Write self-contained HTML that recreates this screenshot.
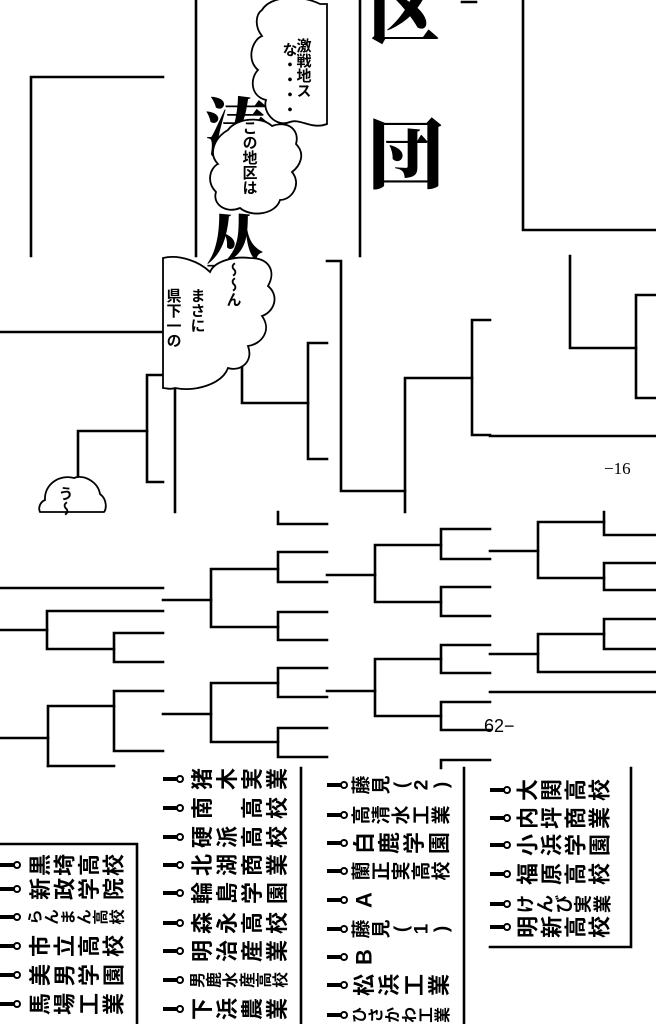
<!DOCTYPE html>
<html><head><meta charset="utf-8">
<style>
html,body{margin:0;padding:0;background:#fff;}
#c{position:relative;width:656px;height:1024px;overflow:hidden;background:#fff;font-family:"Liberation Sans","Noto Sans CJK JP",sans-serif;color:#000;}
svg{position:absolute;left:0;top:0;}
.v{position:absolute;writing-mode:vertical-rl;font-size:15px;line-height:1.1;white-space:nowrap;}
.big{position:absolute;font-family:"Noto Serif CJK SC",serif;font-weight:900;line-height:1;}
</style></head><body><div id="c">
<div class="big" style="left:205px;top:92px;font-size:64px;">涛</div>
<div class="big" style="left:205px;top:210px;font-size:60px;">丛</div>
<div class="big" style="left:368px;top:-30px;font-size:72px;">区</div>
<div class="big" style="left:368px;top:112px;font-size:76px;">団</div>
<svg width="656" height="1024" viewBox="0 0 656 1024">
<g fill="none" stroke="#000" stroke-width="2.6" stroke-linecap="square">
<path d="M163 77H31V256"/>
<path d="M196 0V256"/>
<path d="M360 0V256"/>
<path d="M462 2H476"/>
<path d="M523 0V230H656"/>
<path d="M0 332H163"/>
<path d="M163 375H147V482H163"/>
<path d="M147 431H78V478"/>
<path d="M175 390V512"/>
<path d="M242 330V403H308"/>
<path d="M327 343H308V459H327"/>
<path d="M327 261H341V491H405"/>
<path d="M405 512V378H472"/>
<path d="M490 320H472V435H490"/>
<path d="M570 256V348H636"/>
<path d="M656 295H636V398H656"/>
<path d="M490 436H656"/>
<path d="M0 588H163"/>
<path d="M0 630H47"/>
<path d="M163 611H47V649H114"/>
<path d="M163 633H114V662H163"/>
<path d="M0 738H48"/>
<path d="M48 766V706H114"/>
<path d="M163 691H114V751H163"/>
<path d="M48 766H114"/>
<path d="M278 512V524H327"/>
<path d="M163 600H211"/>
<path d="M278 569H211V627H278"/>
<path d="M327 552H278V582H327"/>
<path d="M327 612H278V640H327"/>
<path d="M163 714H211"/>
<path d="M278 683H211V742H278"/>
<path d="M327 668H278V697H327"/>
<path d="M327 728H278V757H327"/>
<path d="M327 575H375"/>
<path d="M441 545H375V602H441"/>
<path d="M490 529H441V559H490"/>
<path d="M490 587H441V616H490"/>
<path d="M327 691H375"/>
<path d="M441 659H375V716H441"/>
<path d="M490 645H441V673H490"/>
<path d="M490 702H441V730H490"/>
<path d="M441 768V760H490"/>
<path d="M490 551H538"/>
<path d="M604 522H538V578H604"/>
<path d="M604 512V535H656"/>
<path d="M656 563H604V590H656"/>
<path d="M490 654H538"/>
<path d="M604 634H538V672H656"/>
<path d="M656 619H604V649H656"/>
<path d="M490 692H656"/>
<path d="M0 844H137V1024"/>
<path d="M301 768V1024"/>
<path d="M464 768V1024"/>
<path d="M631 768V947H490"/>
</g>
<g fill="#fff" stroke="#000" stroke-width="1.8">
<path d="M262 10 C270 -4 300 -6 320 4 L327 4 L327 124 C312 130 300 118 290 122 C276 128 262 112 266 100 C250 96 250 78 258 70 C246 60 252 40 262 36 C254 26 256 14 262 10Z"/>
<path d="M228 130 C236 118 262 116 272 126 C288 120 300 130 296 144 C306 154 300 166 292 172 C302 184 292 200 280 200 C276 214 252 218 240 208 C226 214 212 204 216 192 C206 182 210 168 218 164 C208 154 214 138 228 130Z"/>
<path d="M163 258 C180 254 200 262 210 272 C214 262 232 256 250 258 C270 258 276 272 268 286 C280 296 274 312 262 316 C272 330 262 344 248 346 C254 362 240 372 228 368 C222 384 196 392 175 388 C170 390 166 388 163 388Z"/>
<path d="M45 500 C44 484 60 474 74 478 C84 474 98 482 100 494 C108 500 106 510 104 512 L40 512 C38 508 40 502 45 500Z"/>
</g>
<g font-family="Liberation Serif,serif" font-size="17" fill="#000">
<text x="604" y="474">−16</text>
<text x="484" y="732" font-family="Liberation Sans,sans-serif" font-size="18">62−</text>
</g>
<g id="pins" fill="#fff" stroke="#000" stroke-width="2"></g>
<g id="lt" fill="#000" font-family="Liberation Sans,Noto Sans CJK JP,sans-serif" font-weight="bold" text-anchor="middle" dominant-baseline="central"></g>
</svg>
<div class="v" style="left:294px;top:38px;font-weight:bold;">激戦地ス</div>
<div class="v" style="left:280px;top:42px;font-weight:bold;">な・・・・</div>
<div class="v" style="left:240px;top:120px;font-weight:bold;">この地区は</div>
<div class="v" style="left:224px;top:262px;font-weight:bold;">〜〜ん</div>
<div class="v" style="left:188px;top:288px;font-weight:bold;">まさに</div>
<div class="v" style="left:164px;top:288px;font-weight:bold;">県下一の</div>
<div class="v" style="left:56px;top:486px;font-weight:bold;">う〜</div>
</div>
<script>
(function(){
var cols=[
 {x:0,tx:28,w:98,rows:[865,889,917,946,975,1004],names:["黒埼高校","新政学院","らんまん高校","市立高校","美男学園","馬場工業"]},
 {x:163,tx:190,w:100,rows:[779,808,837,865,893,923,951,980,1009],names:["猪木実業","南　高校","硬派高校","北湖商業","輪島学園","森永高校","明治産業","男鹿水産高校","下浜農業"]},
 {x:327,tx:352,w:100,rows:[785,815,843,871,900,929,957,985,1015],names:["藤見(2)","高清水工業","白鹿学園","蘭正実高校","A","藤見(1)","B","松浜工業","ひさかわ工業"]},
 {x:490,tx:516,w:96,rows:[790,818,845,874,904,927],names:["大関高校","内坪商業","小浜学園","福原高校","けんび実業","明新高校"]}
];
var NS="http://www.w3.org/2000/svg",g=document.getElementById('pins'),T=document.getElementById('lt');
cols.forEach(function(c){
 c.rows.forEach(function(y,i){
  var l=document.createElementNS(NS,'line');
  l.setAttribute('x1',c.x);l.setAttribute('x2',c.x+14);l.setAttribute('y1',y);l.setAttribute('y2',y);
  l.setAttribute('stroke-width','4');g.appendChild(l);
  var ci=document.createElementNS(NS,'circle');
  ci.setAttribute('cx',c.x+17);ci.setAttribute('cy',y);ci.setAttribute('r','3');g.appendChild(ci);
  var n=Array.from(c.names[i]),len=n.length;
  var step=c.w/Math.max(len,4);
  if(len<=2) step=24;
  var fs=Math.min(22,step*0.95);
  n.forEach(function(ch,k){
   var t=document.createElementNS(NS,'text');
   var cx=c.tx+step*k+step/2;
   t.setAttribute('transform','translate('+cx+','+y+') rotate(-90)');
   t.setAttribute('font-size',fs);
   t.textContent=ch;T.appendChild(t);
  });
 });
});
})();
</script>
</body></html>
